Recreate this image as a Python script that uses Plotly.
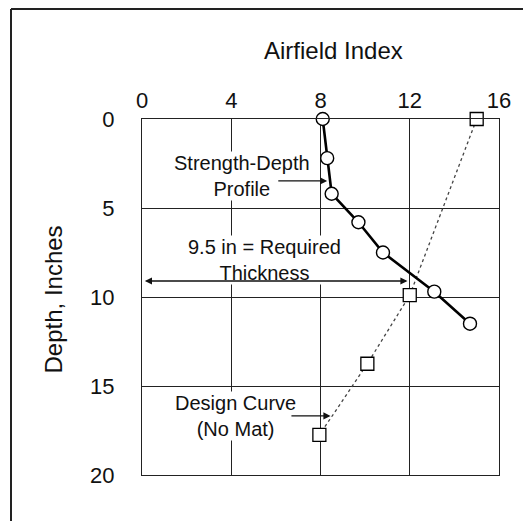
import plotly.graph_objects as go

# ---- data ----
strength_index = [8.1, 8.3, 8.5, 9.7, 10.8, 13.1, 14.7]
strength_depth = [0, 2.2, 4.2, 5.8, 7.5, 9.7, 11.5]

design_index = [15.0, 12.0, 10.1, 7.95]
design_depth = [0, 9.9, 13.75, 17.75]

x_ticks = [0, 4, 8, 12, 16]
y_ticks = [0, 5, 10, 15, 20]

FONT = "Liberation Sans, Arial, Helvetica, sans-serif"
OFF = 8  # page body margin
W, H = 531 - OFF, 529 - 2 * OFF
L, R, T = 142 - OFF, 32, 119 - OFF
B = H - (475 - OFF)
PW, PH = W - L - R, H - T - B


def px(pgx):
    return (pgx - OFF - L) / PW


def py(pgy):
    return (H - B - (pgy - OFF)) / PH


fig = go.Figure()

fig.add_trace(go.Scatter(
    x=design_index, y=design_depth, mode="lines+markers",
    line=dict(color="#444", width=1.3, dash="dot"),
    marker=dict(symbol="square", size=13, color="white",
                line=dict(color="black", width=1.3)),
    cliponaxis=False, showlegend=False, hoverinfo="skip"))

fig.add_trace(go.Scatter(
    x=strength_index, y=strength_depth, mode="lines+markers",
    line=dict(color="black", width=2.6),
    marker=dict(symbol="circle", size=13, color="white",
                line=dict(color="black", width=1.4)),
    cliponaxis=False, showlegend=False, hoverinfo="skip"))

txt = dict(font=dict(family=FONT, size=20, color="#111"), showarrow=False,
           bgcolor="white", borderpad=0, xanchor="center", yanchor="middle")
ann = [
    dict(x=4.47, y=3.2, xref="x", yref="y", text="Strength-Depth<br>Profile", **txt),
    dict(x=5.51, y=7.92, xref="x", yref="y", text="9.5 in = Required<br>Thickness", **txt),
    dict(x=4.17, y=16.69, xref="x", yref="y", text="Design Curve<br>(No Mat)", **txt),
]
arr = dict(text="", showarrow=True, arrowhead=2, arrowsize=1.1, arrowwidth=1.3,
           arrowcolor="#111", xref="x", yref="y", axref="x", ayref="y")
ann += [
    dict(x=8.3, y=3.48, ax=6.04, ay=3.48, **arr),
    dict(x=11.9, y=9.1, ax=0.06, ay=9.1, arrowside="end+start", **arr),
    dict(x=8.45, y=16.68, ax=6.63, ay=16.68, **arr),
    dict(x=px(333.5), y=py(51), xref="paper", yref="paper", text="Airfield Index",
         xanchor="center", yanchor="middle",
         showarrow=False, font=dict(family=FONT, size=24, color="#111")),
    dict(x=px(52.5), y=py(300), xref="paper", yref="paper", text="Depth, Inches",
         xanchor="center", yanchor="middle",
         textangle=-90, showarrow=False, font=dict(family=FONT, size=24, color="#111")),
]

fig.update_layout(
    width=W, height=H,
    margin=dict(l=L, r=R, t=T, b=B, pad=0),
    paper_bgcolor="white", plot_bgcolor="white",
    annotations=ann,
    shapes=[dict(type="line", xref="paper", yref="paper",
                 x0=px(11), x1=px(11), y0=py(560), y1=py(OFF + 1),
                 line=dict(color="#222", width=2)),
            dict(type="line", xref="paper", yref="paper",
                 x0=px(11), x1=px(540), y0=py(OFF + 1), y1=py(OFF + 1),
                 line=dict(color="#222", width=2)),
            dict(type="line", xref="paper", yref="paper",
                 x0=px(528), x1=px(528), y0=py(560), y1=py(OFF + 1),
                 line=dict(color="#222", width=2))],
    xaxis=dict(range=[0, 16], side="top", tickvals=x_ticks,
               ticktext=[str(v) for v in x_ticks],
               showgrid=True, gridcolor="#222", gridwidth=1, zeroline=False,
               showline=True, linecolor="#222", linewidth=1.3, mirror=True,
               ticks="", ticklabelstandoff=1,
               tickfont=dict(family=FONT, size=22, color="#111")),
    yaxis=dict(range=[20, 0], tickvals=y_ticks,
               ticktext=[str(v) for v in y_ticks],
               showgrid=True, gridcolor="#222", gridwidth=1, zeroline=False,
               showline=True, linecolor="#222", linewidth=1.3, mirror=True,
               ticks="", ticklabelstandoff=22,
               tickfont=dict(family=FONT, size=22, color="#111")),
)

fig.write_html("out.html", config={"displayModeBar": False})
